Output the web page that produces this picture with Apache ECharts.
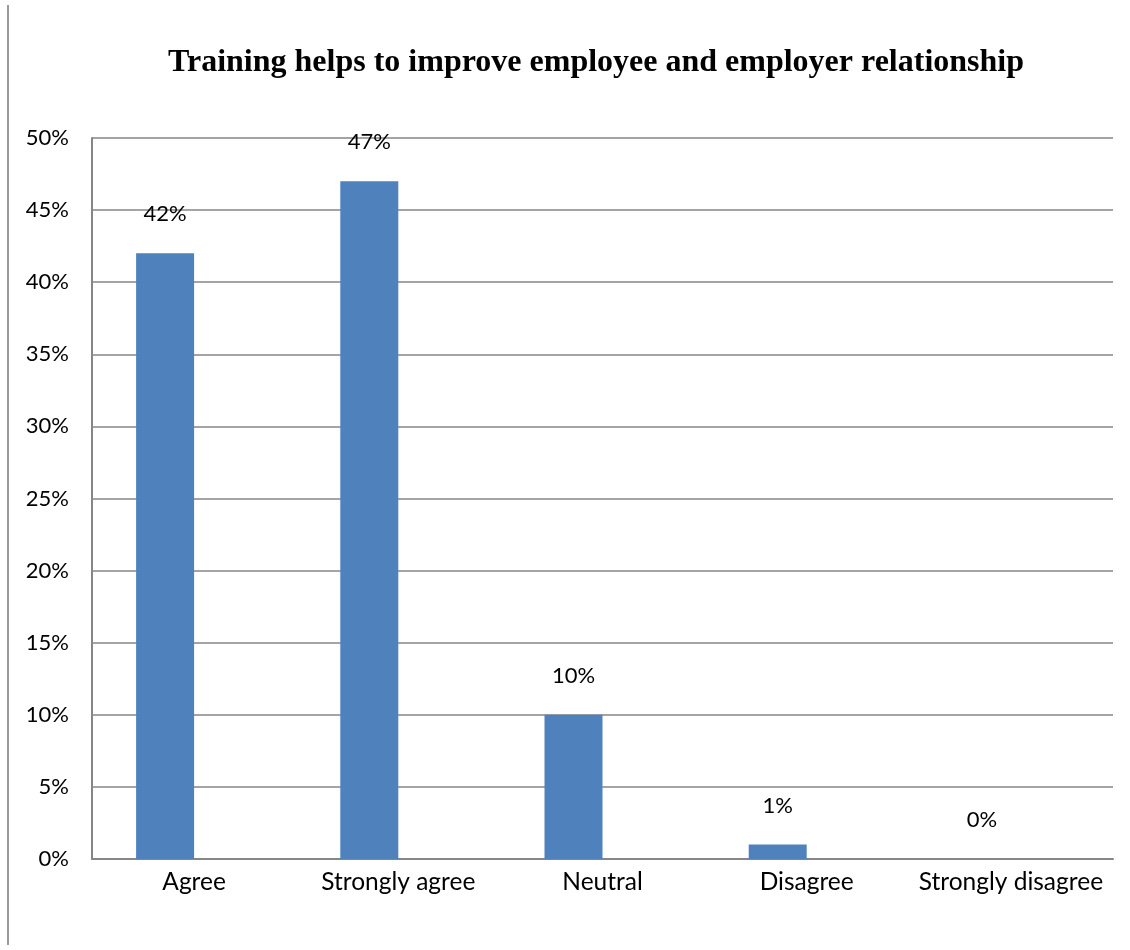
<!DOCTYPE html>
<html>
<head>
<meta charset="utf-8">
<script src="https://cdn.jsdelivr.net/npm/echarts@6/dist/echarts.min.js"></script>
<style>
html,body{margin:0;padding:0;background:#fff;}
#frame{position:absolute;left:7px;top:5px;width:2px;height:940px;background:#9a9a9a;}
#chart{width:1130px;height:950px;}
</style>
</head>
<body>
<div id="chart"></div>
<div id="frame"></div>
<script>
const titleText = 'Training helps to improve employee and employer relationship';
const categories = ['Agree', 'Strongly agree', 'Neutral', 'Disagree', 'Strongly disagree'];
const values = [0.42, 0.47, 0.10, 0.01, 0.00];
const yMin = 0, yMax = 0.5, yStep = 0.05;

const pct = v => Math.round(v * 100) + '%';
const chart = echarts.init(document.getElementById('chart'));
chart.setOption({
  animation: false,
  backgroundColor: '#fff',
  title: {
    text: titleText,
    left: 163,
    top: 42,
    textStyle: {fontFamily: 'Liberation Serif', fontWeight: 'bold', fontSize: 32, color: '#000'}
  },
  grid: {left: 92, right: 17, top: 138, bottom: 91, containLabel: false},
  xAxis: {
    type: 'category',
    data: categories,
    axisLine: {lineStyle: {color: '#868686', width: 2}},
    axisTick: {show: false},
    axisLabel: {interval: 0, fontFamily: 'Lato', fontSize: 24.5, color: '#000', margin: 11}
  },
  yAxis: {
    type: 'value',
    min: yMin, max: yMax, interval: yStep,
    axisLine: {show: true, lineStyle: {color: '#868686', width: 2}},
    axisTick: {show: false},
    splitLine: {lineStyle: {color: '#868686', width: 1.5}},
    axisLabel: {fontFamily: 'Lato', fontSize: 22, color: '#000', margin: 23, formatter: pct}
  },
  series: [
    {
      type: 'bar',
      data: values,
      barWidth: 58,
      barGap: '0%',
      itemStyle: {color: '#4F81BD'},
      label: {show: true, position: 'top', distance: 28, fontFamily: 'Lato', fontSize: 22, color: '#000', formatter: p => pct(p.value)}
    },
    {
      type: 'bar',
      data: [],
      barWidth: 58,
      barGap: '0%'
    }
  ]
});
</script>
</body>
</html>
